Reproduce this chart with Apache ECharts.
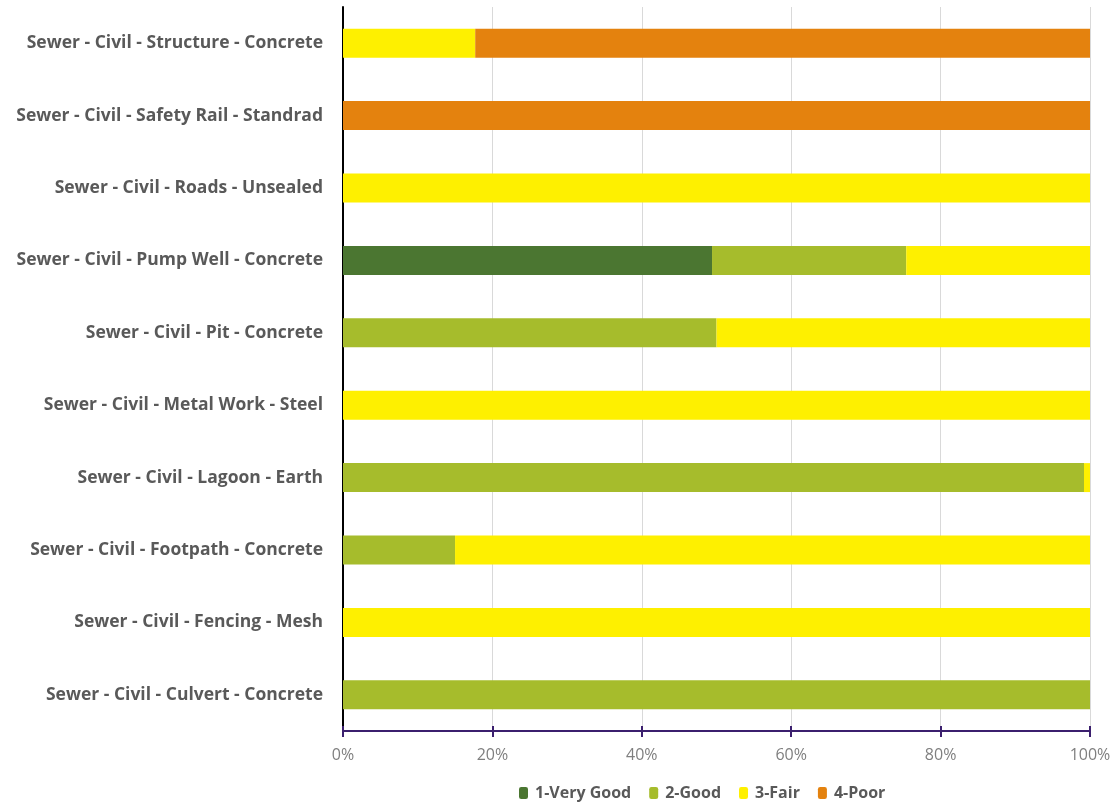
<!DOCTYPE html>
<html>
<head>
<meta charset="utf-8">
<script src="https://cdn.jsdelivr.net/npm/echarts@6/dist/echarts.min.js"></script>
<style>html,body{margin:0;padding:0;background:#fff}#c{width:1117px;height:803px}</style>
</head>
<body>
<div id="c"></div>
<script>
const categories = [
  "Sewer - Civil - Culvert - Concrete",
  "Sewer - Civil - Fencing - Mesh",
  "Sewer - Civil - Footpath - Concrete",
  "Sewer - Civil - Lagoon - Earth",
  "Sewer - Civil - Metal Work - Steel",
  "Sewer - Civil - Pit - Concrete",
  "Sewer - Civil - Pump Well - Concrete",
  "Sewer - Civil - Roads - Unsealed",
  "Sewer - Civil - Safety Rail - Standrad",
  "Sewer - Civil - Structure - Concrete"
];
const veryGood = [0, 0, 0, 0, 0, 0, 49.4, 0, 0, 0];
const good     = [100, 0, 15, 99.2, 0, 50, 26, 0, 0, 0];
const fair     = [0, 100, 85, 0.8, 100, 50, 24.6, 100, 0, 17.7];
const poor     = [0, 0, 0, 0, 0, 0, 0, 0, 100, 82.3];
const seriesNames = ["1-Very Good", "2-Good", "3-Fair", "4-Poor"];
const colors = ["#4B7631", "#A6BC2C", "#FEF000", "#E4820E"];
const xTicks = [0, 20, 40, 60, 80, 100];

const font = "'Open Sans', Lato, sans-serif";
const chart = echarts.init(document.getElementById('c'), null, {renderer: 'canvas'});
const seriesData = [veryGood, good, fair, poor];
chart.setOption({
  animation: false,
  textStyle: {fontFamily: font},
  grid: {left: 343, right: 27, top: 7, bottom: 72, containLabel: false},
  legend: {
    top: 780, left: 514, itemWidth: 9, itemHeight: 12, itemGap: 18,
    textStyle: {color: '#595959', fontSize: 16, fontFamily: font, fontWeight: 'bold', padding: [0, 0, 0, 2]},
    data: seriesNames
  },
  xAxis: [{
    type: 'value', min: xTicks[0], max: xTicks[xTicks.length - 1], interval: 20,
    axisLine: {show: true, lineStyle: {color: '#3B1F6E', width: 2}},
    axisTick: {show: true, length: 6, lineStyle: {color: '#3B1F6E', width: 2}},
    axisLabel: {formatter: '{value}%', color: '#7f7f7f', fontSize: 16, margin: 16, fontFamily: font},
    splitLine: {show: true, lineStyle: {color: '#d9d9d9', width: 1}}
  }, {
    type: 'value', position: 'bottom', min: 0, max: 100, interval: 20, offset: 0,
    axisLine: {show: false},
    axisTick: {show: true, inside: true, length: 5, lineStyle: {color: '#3B1F6E', width: 2}},
    axisLabel: {show: false},
    splitLine: {show: false}
  }],
  yAxis: {
    type: 'category', data: categories,
    axisLine: {show: true, lineStyle: {color: '#000', width: 2}},
    axisTick: {show: false},
    axisLabel: {color: '#595959', fontSize: 17.5, fontWeight: 'bold', margin: 20, fontFamily: font}
  },
  series: seriesData.map((d, i) => ({
    name: seriesNames[i], type: 'bar', stack: 'total', barWidth: '40%',
    xAxisIndex: 0,
    itemStyle: {color: colors[i]},
    data: d
  }))
});
</script>
</body>
</html>
